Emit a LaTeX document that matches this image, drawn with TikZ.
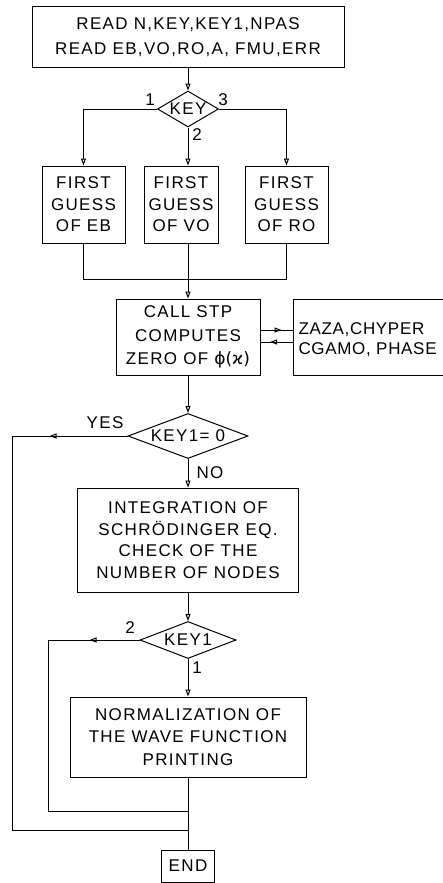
\documentclass[tikz,border=0pt]{standalone}
\usepackage{fontspec}
\setmainfont{Liberation Sans}[LetterSpace=8]
\newfontfamily\grk{DejaVu Sans}
\newfontfamily\zazafont{Liberation Sans}[LetterSpace=4]
\usetikzlibrary{shapes.geometric,arrows.meta,decorations.markings}
\begin{document}
\begin{tikzpicture}[x=1pt,y=-1pt, line width=1pt,
  box/.style={draw, inner sep=0pt, align=center},
  dia/.style={draw, diamond, inner sep=0pt},
  lbl/.style={font=\fontsize{17}{20}\selectfont, inner sep=0pt},
  tip/.style={-{Triangle[open,length=7pt,width=5pt]}},
  midarr/.style={postaction=decorate, decoration={markings, mark=at position #1 with {\arrow{Triangle[open,length=7pt,width=5pt]}}}}
]
\clip (0,0) rectangle (443,883);
% top box
\node[box, minimum width=312, minimum height=61, font=\fontsize{17}{25}\selectfont] (read) at (188,37.5) {READ N,KEY,KEY1,NPAS\\READ EB,VO,RO,A, FMU,ERR};
% KEY diamond
\node[dia, minimum width=61, minimum height=36] (key) at (188,109) {};
\node[lbl] (keyt) at (key) {KEY};
\node[lbl] (k1l) at (150,100) {1};
\node[lbl] (k3l) at (223,100) {3};
\node[lbl] (k2l) at (197,135) {2};
% guesses
\node[box, minimum width=83, minimum height=77, font=\fontsize{17}{21.5}\selectfont] (g1) at (83.5,204.5) {FIRST\\GUESS\\OF EB};
\node[box, minimum width=74, minimum height=77, font=\fontsize{17}{21.5}\selectfont] (g2) at (181,204.5) {FIRST\\GUESS\\OF VO};
\node[box, minimum width=83, minimum height=77, font=\fontsize{17}{21.5}\selectfont] (g3) at (286.5,204.5) {FIRST\\GUESS\\OF RO};
% STP
\node[box, minimum width=144, minimum height=76, font=\fontsize{17}{23.5}\selectfont] (stp) at (188,337) {CALL STP\\COMPUTES\\ZERO OF {\grk ϕ(ϰ)}};
\node[draw, inner sep=0pt, minimum width=170, minimum height=76, anchor=west] (zaza) at (293,337) {};
\node[lbl, anchor=west, align=left, font=\zazafont\fontsize{17}{20}\selectfont] (zazat) at (298,340) {ZAZA,CHYPER\\CGAMO, PHASE};
% KEY1 = 0
\node[dia, minimum width=120, minimum height=45] (k2) at (188,436) {};
\node[lbl] (k2t) at (k2) {KEY1= 0};
\node[lbl] (yes) at (105,423) {YES};
\node[lbl] (no) at (210,473) {NO};
% integration
\node[box, minimum width=221, minimum height=104, font=\fontsize{17}{21.7}\selectfont] (int) at (188,540) {INTEGRATION OF\\SCHRÖDINGER EQ.\\CHECK OF THE\\NUMBER OF NODES};
% KEY1
\node[dia, minimum width=96, minimum height=37] (k3) at (188,640) {};
\node[lbl] (k3t) at (k3) {KEY1};
\node[lbl] (twol) at (130,628) {2};
\node[lbl] (onel) at (197,668) {1};
% normalization
\node[box, minimum width=236, minimum height=80, font=\fontsize{17}{22.5}\selectfont] (norm) at (188,737) {NORMALIZATION OF\\THE WAVE FUNCTION\\PRINTING};
% END
\node[box, minimum width=53, minimum height=32, font=\fontsize{17}{20}\selectfont] (fin) at (188,866) {END};

% connectors
\draw[tip] (read.south) -- (key.north);
\draw[tip] (key.west) -| (g1.north);
\draw[tip] (key.east) -| (g3.north);
\draw[tip] (key.south) -- (key.south |- g2.north);
\coordinate (m) at (188,279);
\draw (g1.south) |- (m);
\draw (g3.south) |- (m);
\draw[tip] (m |- g2.south) -- (stp.north);
\draw[midarr=21pt] ([yshift=7pt]stp.east) coordinate (u) -- (u -| zaza.west);
\draw[midarr=23pt] ([yshift=-5pt]zaza.west) coordinate (v) -- (v -| stp.east);
\draw[tip] (stp.south) -- (k2.north);
\coordinate (yl) at (12,436);
\coordinate (yb) at (12,830);
\draw[midarr=78pt] (k2.west) -- (yl) -- (yb) -- (yb -| fin.north);
\draw[tip] (k2.south) -- (int.north);
\draw[tip] (int.south) -- (k3.north);
\coordinate (l2) at (48,640);
\coordinate (b2) at (48,811);
\draw[midarr=50pt] (k3.west) -- (l2) -- (b2) -- (b2 -| fin.north);
\draw[tip] (k3.south) -- (norm.north);
\draw (norm.south) -- (fin.north);
\end{tikzpicture}
\end{document}
